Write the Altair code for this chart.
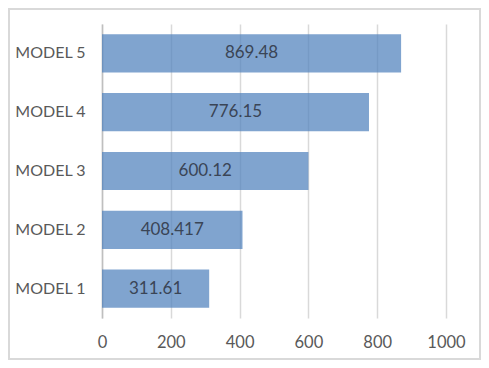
import altair as alt
import pandas as pd

models = ["MODEL 1", "MODEL 2", "MODEL 3", "MODEL 4", "MODEL 5"]
values = [311.61, 408.417, 600.12, 776.15, 869.48]
labels = ["311.61", "408.417", "600.12", "776.15", "869.48"]
x_ticks = [0, 200, 400, 600, 800, 1000]

df = pd.DataFrame({"model": models, "value": values, "label": labels})

FONT = "Lato"
W, H = 344, 294

y_enc = alt.Y(
    "model:N",
    sort=list(reversed(models)),
    title=None,
    scale=alt.Scale(paddingInner=0.35, paddingOuter=0.175),
    axis=alt.Axis(
        domain=True, domainColor="#bfbfbf", domainWidth=1.5,
        ticks=False, grid=False, labelPadding=17,
        labelFont=FONT, labelFontSize=16, labelColor="#595959",
    ),
)

x_scale = alt.Scale(domain=[0, 1000], nice=False)

bars = alt.Chart(df).mark_bar(
    color="#4F81BD", opacity=0.72
).encode(
    x=alt.X(
        "value:Q", scale=x_scale, title=None,
        axis=alt.Axis(
            values=x_ticks, format="d", domain=False, ticks=False, grid=True,
            gridColor="#d9d9d9", gridWidth=1.5, labelPadding=16,
            labelFont=FONT, labelFontSize=16.5, labelColor="#595959",
            labelFlush=False,
        ),
    ),
    y=y_enc,
)

text = alt.Chart(df).transform_calculate(
    mid="datum.value / 2"
).mark_text(
    font=FONT, fontSize=17, color="#3a4556", baseline="middle", align="center"
).encode(
    x=alt.X("mid:Q", scale=x_scale),
    y=alt.Y("model:N", sort=list(reversed(models))),
    text="label:N",
)

frame = alt.Chart(pd.DataFrame({"k": [0]})).mark_rect(
    fillOpacity=0, stroke="#d9d9d9", strokeWidth=2
).encode(
    x=alt.value(-93), x2=alt.value(378),
    y=alt.value(-15), y2=alt.value(335),
)

chart = alt.layer(bars, text, frame).properties(
    width=W, height=H,
    padding={"left": 94, "top": 16, "right": 35, "bottom": 42},
    autosize=alt.AutoSizeParams(type="none"),
    background="white",
).configure_view(stroke=None)

chart.save("out.html", embed_options={"renderer": "svg", "actions": False})
